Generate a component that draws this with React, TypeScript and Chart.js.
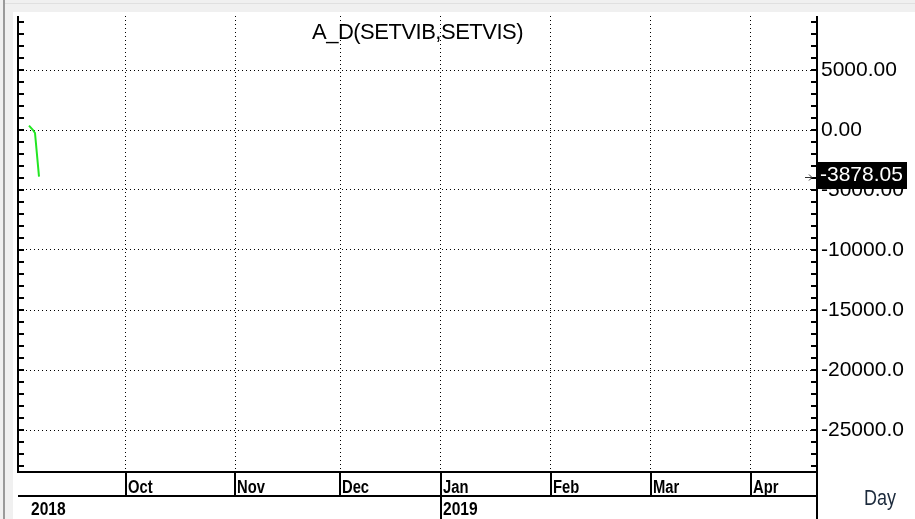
import React, { useEffect, useRef } from "react";
import { Chart, registerables } from "chart.js";

Chart.register(...registerables);

// ---- data ----
const chartTitle = "A_D(SETVIB,SETVIS)";
const dayIndex = [1.7, 2.5, 2.9, 3.7];
const adValues = [360, 0, -250, -3878.05];
const lastValueLabel = "-3878.05";
const yTickValues = [5000, 0, -5000, -10000, -15000, -20000, -25000];
const yTickLabels = ["5000.00", "0.00", "-5000.00", "-10000.0", "-15000.0", "-20000.0", "-25000.0"];
const monthLabels = ["Oct", "Nov", "Dec", "Jan", "Feb", "Mar", "Apr"];
const monthStartIndex = [21, 43, 64, 84, 106, 126, 146];
const yearLabels = ["2018", "2019"];
const yearStartIndex = [null, 84];
const xAxisTitle = "Day";
const yMin = -28500;
const yMax = 9500;
const xMin = -0.5;
const xMax = 159.3;
const minorStep = 1000;

const SANS = '"Liberation Sans", Arial, sans-serif';

function narrowText(
  ctx: CanvasRenderingContext2D,
  text: string,
  x: number,
  y: number,
  size: number,
  bold: boolean,
  sx: number
) {
  ctx.save();
  ctx.font = `${bold ? "bold " : ""}${size}px ${SANS}`;
  ctx.textAlign = "left";
  ctx.textBaseline = "alphabetic";
  ctx.translate(x, y);
  ctx.scale(sx, 1);
  ctx.fillText(text, 0, 0);
  ctx.restore();
}

const decorPlugin = {
  id: "decor",
  beforeDraw(chart: any) {
    const ctx = chart.ctx as CanvasRenderingContext2D;
    const w = chart.width;
    const h = chart.height;
    ctx.save();
    ctx.fillStyle = "#ffffff";
    ctx.fillRect(0, 0, w, h);
    ctx.fillStyle = "#f0f0f0";
    ctx.fillRect(0, 0, w, 12);
    ctx.fillRect(0, 0, 13, h);
    ctx.fillStyle = "#e0e0e0";
    ctx.fillRect(5, 3, w, 1);
    ctx.fillStyle = "#9a9a9a";
    ctx.fillRect(3, 0, 2, h);
    ctx.restore();
  },
  afterDraw(chart: any) {
    const ctx = chart.ctx as CanvasRenderingContext2D;
    const a = chart.chartArea;
    const xs = chart.scales.x;
    const ys = chart.scales.y;
    const h = chart.height;
    const left = Math.round(a.left);
    const right = Math.round(a.right);
    const top = Math.round(a.top);
    const bottom = Math.round(a.bottom);
    ctx.save();
    ctx.fillStyle = "#000";
    // axis lines
    ctx.fillRect(left - 1, top, 2, bottom - top);
    ctx.fillRect(right - 1, top, 2, h - top);
    // minor ticks
    for (let v = Math.ceil(yMin / minorStep) * minorStep; v <= yMax; v += minorStep) {
      const py = Math.round(ys.getPixelForValue(v));
      if (py < top || py > bottom) continue;
      ctx.fillRect(left, py - 1, 6, 2);
      ctx.fillRect(right - 6, py - 1, 6, 2);
    }
    // x rows
    const row1 = bottom + 23;
    ctx.fillRect(left - 1, bottom - 1, right - left + 1, 2);
    ctx.fillRect(left, row1, right - left, 2);
    monthLabels.forEach((m, i) => {
      const px = Math.round(xs.getPixelForValue(monthStartIndex[i]));
      const isJan = m === "Jan";
      ctx.fillRect(px - 1, bottom, 2, (isJan ? h : row1) - bottom);
      narrowText(ctx, m, px + 2, bottom + 21, 18, true, 0.82);
    });
    yearLabels.forEach((yl, i) => {
      const idx = yearStartIndex[i];
      const px = idx === null ? left + 13 : Math.round(xs.getPixelForValue(idx)) + 2;
      narrowText(ctx, yl, px, h - 4, 19, true, 0.82);
    });
    // axis title
    ctx.fillStyle = "#1c2a3c";
    narrowText(ctx, xAxisTitle, 864, 505, 22, false, 0.82);
    // chart title
    ctx.fillStyle = "#000";
    ctx.font = `22px ${SANS}`;
    ctx.textAlign = "center";
    ctx.textBaseline = "alphabetic";
    (ctx as any).letterSpacing = "-0.5px";
    ctx.fillText(chartTitle, (a.left + a.right) / 2, 39);
    (ctx as any).letterSpacing = "0px";
    // last value box
    const lastV = adValues[adValues.length - 1];
    const vy = ys.getPixelForValue(lastV);
    ctx.fillStyle = "#000";
    ctx.fillRect(right + 1, Math.round(vy) - 15, 89, 27);
    ctx.fillStyle = "#fff";
    ctx.font = `21px ${SANS}`;
    ctx.textAlign = "left";
    ctx.textBaseline = "middle";
    ctx.fillText(lastValueLabel, right + 3, vy - 1);
    // small arrow
    ctx.strokeStyle = "#333";
    ctx.lineWidth = 1;
    const ay = Math.round(vy) + 0.5;
    ctx.beginPath();
    ctx.moveTo(805, ay);
    ctx.lineTo(812, ay);
    ctx.moveTo(809, ay - 3);
    ctx.lineTo(812, ay);
    ctx.lineTo(809, ay + 3);
    ctx.stroke();
    ctx.restore();
  },
};

export default function App() {
  const ref = useRef<HTMLCanvasElement | null>(null);
  useEffect(() => {
    if (!ref.current) return;
    const chart = new Chart(ref.current, {
      type: "line",
      data: {
        datasets: [
          {
            label: chartTitle,
            data: dayIndex.map((d, i) => ({ x: d, y: adValues[i] })),
            borderColor: "#22e622",
            borderWidth: 2,
            pointRadius: 0,
            tension: 0,
            fill: false,
          },
        ],
      },
      options: {
        animation: false,
        responsive: false,
        devicePixelRatio: 1,
        layout: { padding: { left: 18, top: 16, right: 0, bottom: 0 } },
        plugins: {
          legend: { display: false },
          title: { display: false },
          tooltip: { enabled: false },
        },
        scales: {
          x: {
            type: "linear",
            min: xMin,
            max: xMax,
            position: "bottom",
            afterBuildTicks: (s: any) => {
              s.ticks = monthStartIndex.map((v) => ({ value: v }));
            },
            afterFit: (s: any) => {
              s.height = 47;
              s.paddingLeft = 0;
              s.paddingRight = 0;
            },
            ticks: { display: false },
            grid: { color: "#000", lineWidth: 1, drawTicks: false },
            border: { display: false, dash: [1, 3] },
          },
          y: {
            type: "linear",
            min: yMin,
            max: yMax,
            position: "right",
            afterBuildTicks: (s: any) => {
              s.ticks = yTickValues.map((v) => ({ value: v }));
            },
            afterFit: (s: any) => {
              s.width = 98;
              s.paddingTop = 0;
              s.paddingBottom = 0;
            },
            ticks: {
              padding: 4,
              color: "#000",
              font: { family: SANS, size: 21 },
              callback: (v: any) => {
                const i = yTickValues.indexOf(Number(v));
                return i >= 0 ? yTickLabels[i] : "";
              },
            },
            grid: { color: "#000", lineWidth: 1, drawTicks: false },
            border: { display: false, dash: [1, 3] },
          },
        },
      },
      plugins: [decorPlugin],
    });
    return () => chart.destroy();
  }, []);
  return (
    <div style={{ position: "fixed", left: 0, top: 0, width: 915, height: 519, background: "#fff" }}>
      <canvas ref={ref} width={915} height={519} style={{ display: "block", width: 915, height: 519 }} />
    </div>
  );
}
